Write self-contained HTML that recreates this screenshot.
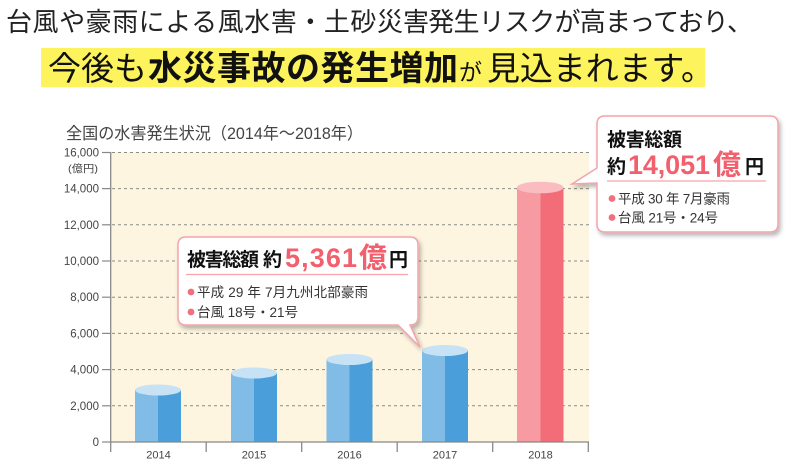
<!DOCTYPE html>
<html><head><meta charset="utf-8">
<style>
html,body{margin:0;padding:0;background:#fff;}
svg{display:block;}
text{font-family:"Liberation Sans","Noto Sans CJK JP",sans-serif;}
</style></head>
<body>
<svg width="790" height="468" viewBox="0 0 790 468" xmlns="http://www.w3.org/2000/svg">
<defs>
<filter id="sh" x="-10%" y="-10%" width="130%" height="140%">
<feDropShadow dx="2" dy="3" stdDeviation="2" flood-color="#000" flood-opacity="0.28"/>
</filter>
</defs>

<!-- Heading line 1 -->
<text x="6" y="31" font-size="26" fill="#222" textLength="397" lengthAdjust="spacing">台風や豪雨による風水害・土砂災</text>
<text x="403" y="31" font-size="26" fill="#222" textLength="350" lengthAdjust="spacing">害発生リスクが高まっており、</text>

<!-- Heading line 2 -->
<rect x="41" y="48" width="664" height="39" fill="#fdf35c"/>
<text x="48" y="80" font-size="33" fill="#111" textLength="99" lengthAdjust="spacing">今後も</text>
<text x="148" y="80" font-size="34" font-weight="bold" fill="#111" textLength="310" lengthAdjust="spacing">水災事故の発生増加</text>
<text x="459" y="80" font-size="23" fill="#111" textLength="26" lengthAdjust="spacing">が</text>
<text x="487" y="80" font-size="33" fill="#111" textLength="227" lengthAdjust="spacing">見込まれます。</text>

<!-- Chart title -->
<text x="66" y="139" font-size="16.5" fill="#444" textLength="297" lengthAdjust="spacingAndGlyphs">全国の水害発生状況（2014年〜2018年）</text>

<!-- Plot background -->
<rect x="111" y="152" width="478" height="290" fill="#fdf5e0"/>

<!-- gridlines -->
<g stroke="#8c8c8c" stroke-width="1" stroke-dasharray="3 3">
<line x1="112" y1="152.5" x2="589" y2="152.5"/>
<line x1="112" y1="188.6" x2="589" y2="188.6"/>
<line x1="112" y1="224.8" x2="589" y2="224.8"/>
<line x1="112" y1="261" x2="589" y2="261"/>
<line x1="112" y1="297.2" x2="589" y2="297.2"/>
<line x1="112" y1="333.4" x2="589" y2="333.4"/>
<line x1="112" y1="369.6" x2="589" y2="369.6"/>
<line x1="112" y1="405.8" x2="589" y2="405.8"/>
</g>

<!-- y ticks -->
<g stroke="#888" stroke-width="1.2">
<line x1="102" y1="152.5" x2="111" y2="152.5"/>
<line x1="102" y1="188.6" x2="111" y2="188.6"/>
<line x1="102" y1="224.8" x2="111" y2="224.8"/>
<line x1="102" y1="261" x2="111" y2="261"/>
<line x1="102" y1="297.2" x2="111" y2="297.2"/>
<line x1="102" y1="333.4" x2="111" y2="333.4"/>
<line x1="102" y1="369.6" x2="111" y2="369.6"/>
<line x1="102" y1="405.8" x2="111" y2="405.8"/>
<line x1="102" y1="442" x2="111" y2="442"/>
</g>

<!-- y labels -->
<g font-size="11.5" fill="#444" text-anchor="end">
<text x="99" y="156.5">16,000</text>
<text x="99" y="192.6">14,000</text>
<text x="99" y="228.8">12,000</text>
<text x="99" y="265">10,000</text>
<text x="99" y="301.2">8,000</text>
<text x="99" y="337.4">6,000</text>
<text x="99" y="373.6">4,000</text>
<text x="99" y="409.8">2,000</text>
<text x="99" y="446">0</text>
</g>
<text x="68" y="172" font-size="10.5" fill="#444" textLength="30" lengthAdjust="spacingAndGlyphs">(億円)</text>

<!-- Bars -->
<rect x="135" y="390" width="23" height="52" fill="#80bce6"/>
<rect x="158" y="390" width="23" height="52" fill="#4a9ed9"/>
<ellipse cx="158" cy="390" rx="23" ry="5.5" fill="#c8e2f5"/>

<rect x="231" y="373" width="23" height="69" fill="#80bce6"/>
<rect x="254" y="373" width="23" height="69" fill="#4a9ed9"/>
<ellipse cx="254" cy="373" rx="23" ry="5.5" fill="#c8e2f5"/>

<rect x="326.5" y="359.5" width="23" height="82.5" fill="#80bce6"/>
<rect x="349.5" y="359.5" width="23" height="82.5" fill="#4a9ed9"/>
<ellipse cx="349.5" cy="359.5" rx="23" ry="5.5" fill="#c8e2f5"/>

<rect x="422" y="350.5" width="23" height="91.5" fill="#80bce6"/>
<rect x="445" y="350.5" width="23" height="91.5" fill="#4a9ed9"/>
<ellipse cx="445" cy="350.5" rx="23" ry="5.5" fill="#c8e2f5"/>

<rect x="517" y="187.5" width="23.5" height="254.5" fill="#f79aa1"/>
<rect x="540.5" y="187.5" width="23" height="254.5" fill="#f36d79"/>
<ellipse cx="540.2" cy="187.5" rx="23.3" ry="5.8" fill="#fbbcc1"/>

<!-- axes -->
<g stroke="#888" stroke-width="1.3">
<line x1="110.7" y1="152" x2="110.7" y2="452"/>
<line x1="110" y1="442" x2="589" y2="442"/>
<line x1="206.2" y1="442" x2="206.2" y2="452"/>
<line x1="301.7" y1="442" x2="301.7" y2="452"/>
<line x1="397.2" y1="442" x2="397.2" y2="452"/>
<line x1="492.7" y1="442" x2="492.7" y2="452"/>
<line x1="588.3" y1="442" x2="588.3" y2="452"/>
</g>

<!-- x labels -->
<g font-size="11" fill="#444" text-anchor="middle">
<text x="158.5" y="458.5">2014</text>
<text x="254" y="458.5">2015</text>
<text x="349.5" y="458.5">2016</text>
<text x="445" y="458.5">2017</text>
<text x="540.5" y="458.5">2018</text>
</g>

<!-- Bubble 1 -->
<path d="M186,237 H410 Q418,237 418,245 V317 Q418,325 410,325 L420,347 L398,325 H186 Q178,325 178,317 V245 Q178,237 186,237 Z"
 fill="#fff" stroke="#f4a3aa" stroke-width="1.5" filter="url(#sh)"/>
<text x="187" y="266" font-size="19" font-weight="bold" fill="#111" textLength="72" lengthAdjust="spacing">被害総額</text>
<text x="263" y="266" font-size="19" font-weight="bold" fill="#111">約</text>
<text x="285" y="267" font-size="27" font-weight="bold" fill="#f2606e" textLength="72" lengthAdjust="spacing">5,361</text>
<text x="359" y="267" font-size="28" font-weight="bold" fill="#f2606e">億</text>
<text x="389" y="266" font-size="19" font-weight="bold" fill="#111">円</text>
<line x1="186" y1="274.5" x2="408" y2="274.5" stroke="#f6a5ab" stroke-width="1.2"/>
<circle cx="191" cy="292" r="3.4" fill="#f0707c"/>
<text x="197" y="297" font-size="13.5" fill="#333" textLength="171" lengthAdjust="spacing">平成 29 年 7月九州北部豪雨</text>
<circle cx="191" cy="312" r="3.4" fill="#f0707c"/>
<text x="197" y="317" font-size="13.5" fill="#333" textLength="101" lengthAdjust="spacing">台風 18号・21号</text>

<!-- Bubble 2 -->
<path d="M605,116 H770 Q778,116 778,124 V224 Q778,232 770,232 H605 Q597,232 597,224 V183 L572,184 L597,168 V124 Q597,116 605,116 Z"
 fill="#fff" stroke="#f4a3aa" stroke-width="1.5" filter="url(#sh)"/>
<text x="607" y="146" font-size="19" font-weight="bold" fill="#111" textLength="75" lengthAdjust="spacing">被害総額</text>
<text x="607" y="173" font-size="19" font-weight="bold" fill="#111">約</text>
<text x="628" y="174" font-size="27" font-weight="bold" fill="#f2606e" textLength="82" lengthAdjust="spacing">14,051</text>
<text x="713" y="174" font-size="28" font-weight="bold" fill="#f2606e">億</text>
<text x="745" y="173" font-size="19" font-weight="bold" fill="#111">円</text>
<line x1="607" y1="181" x2="766" y2="181" stroke="#f6a5ab" stroke-width="1.2"/>
<circle cx="612" cy="198.5" r="3.4" fill="#f0707c"/>
<text x="618" y="203.5" font-size="13.5" fill="#333" textLength="112" lengthAdjust="spacing">平成 30 年 7月豪雨</text>
<circle cx="612" cy="217.5" r="3.4" fill="#f0707c"/>
<text x="618" y="222.5" font-size="13.5" fill="#333" textLength="100" lengthAdjust="spacing">台風 21号・24号</text>
</svg>
</body></html>
